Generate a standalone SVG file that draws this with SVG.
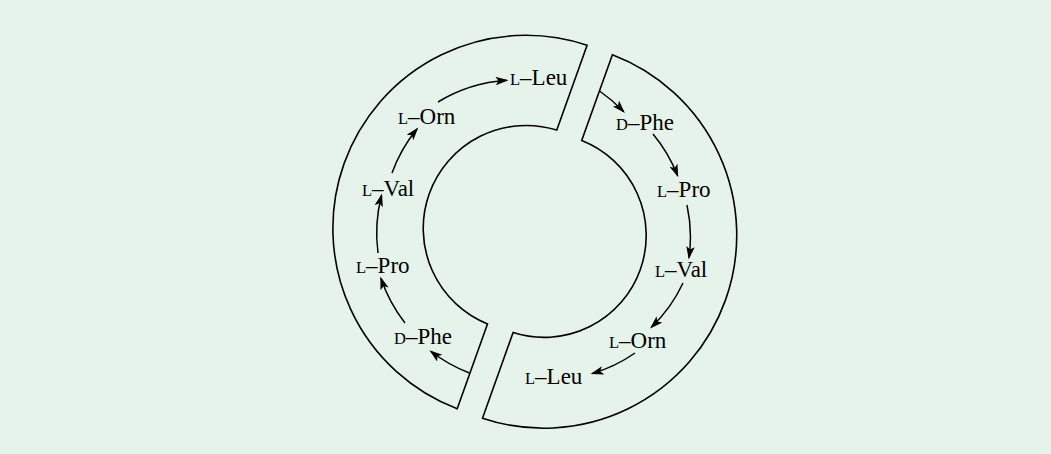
<svg xmlns="http://www.w3.org/2000/svg" width="1051" height="454" viewBox="0 0 1051 454">
<style>
.bg{fill:#e6f3ea}
.ring{fill:none;stroke:#000;stroke-width:1.6;stroke-linejoin:miter}
.arr{fill:none;stroke:#000;stroke-width:1.5;marker-end:url(#ah)}
text{font-family:"Liberation Serif","Times New Roman",serif;font-size:23px;fill:#000}
.sc{font-size:16.5px}
</style>
<defs>
<marker id="ah" markerUnits="userSpaceOnUse" markerWidth="16" markerHeight="10" refX="11" refY="4.25" orient="auto">
<path d="M0,0 L13,4.25 L0,8.5 L3,4.25 Z" fill="#000"/>
</marker>
</defs>
<rect class="bg" x="0" y="0" width="1051" height="454"/>
<g id="ring-left">
<path class="ring" d="M587.1,45.3 A193,193 0 0,0 457.2,408.7 L487.5,323.9 A103,103 0 0,1 556.8,130.1 Z"/>
</g>
<g id="ring-right">
<path class="ring" d="M612.4,54.8 A193,193 0 0,1 482.5,418.2 L513.1,332.5 A102,102 0 0,0 581.7,140.5 Z"/>
</g>
<g id="connectors">
<path class="arr" d="M469.5,373 A152,152 0 0,1 431,351.5"/>
<path class="arr" d="M405,323 A152,152 0 0,1 381,278.5"/>
<path class="arr" d="M378,253 A150,150 0 0,1 381.5,195.5"/>
<path class="arr" d="M392,173 A148,148 0 0,1 417,129"/>
<path class="arr" d="M438,102 A152,152 0 0,1 506.5,80.3"/>
<path class="arr" d="M599.5,91 A150,150 0 0,1 623.5,111.5"/>
<path class="arr" d="M653,134 A150,150 0 0,1 677.5,175.5"/>
<path class="arr" d="M687,205 A150,150 0 0,1 689,257.5"/>
<path class="arr" d="M683,283 A145,145 0 0,1 651.5,327"/>
<path class="arr" d="M635,353 A150,150 0 0,1 592.5,373.5"/>
</g>
<g id="l-dphe"><text x="394" y="344"><tspan class="sc">D</tspan>–Phe</text></g>
<g id="l-lpro"><text x="356" y="273"><tspan class="sc">L</tspan>–Pro</text></g>
<g id="l-lval"><text x="362" y="196"><tspan class="sc">L</tspan>–Val</text></g>
<g id="l-lorn"><text x="398" y="124"><tspan class="sc">L</tspan>–Orn</text></g>
<g id="l-lleu"><text x="510" y="85"><tspan class="sc">L</tspan>–Leu</text></g>
<g id="r-dphe"><text x="616" y="130"><tspan class="sc">D</tspan>–Phe</text></g>
<g id="r-lpro"><text x="657" y="197"><tspan class="sc">L</tspan>–Pro</text></g>
<g id="r-lval"><text x="655" y="277"><tspan class="sc">L</tspan>–Val</text></g>
<g id="r-lorn"><text x="609" y="348"><tspan class="sc">L</tspan>–Orn</text></g>
<g id="r-lleu"><text x="525" y="384"><tspan class="sc">L</tspan>–Leu</text></g>
</svg>
